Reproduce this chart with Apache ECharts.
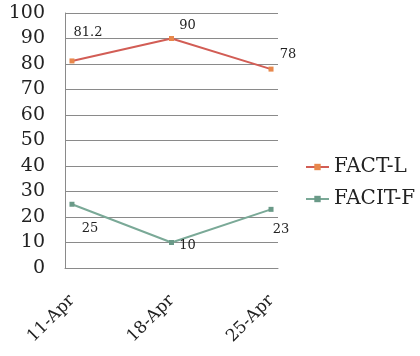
<!DOCTYPE html>
<html><head><meta charset="utf-8">
<script src="https://cdn.jsdelivr.net/npm/echarts@6/dist/echarts.min.js"></script>
<style>html,body{margin:0;padding:0;background:#fff}#c{width:420px;height:356px}</style>
</head><body><div id="c"></div>
<script>
const categories = ['11-Apr', '18-Apr', '25-Apr'];
const factL = [81.2, 90, 78];
const facitF = [25, 10, 23];
const seriesNames = ['FACT-L', 'FACIT-F'];
const yTicks = [0, 10, 20, 30, 40, 50, 60, 70, 80, 90, 100];

const serif = '"DejaVu Serif", "Liberation Serif", serif';
const offL = [[16, -28], [16, -13], [17, -14]];
const offF = [[18, 24], [16, 3], [10, 20]];

function build(vals, offs) {
  return vals.map((v, i) => ({
    value: [i, v],
    label: { show: true, position: 'inside', offset: offs[i], formatter: String(v) }
  }));
}

const chart = echarts.init(document.getElementById('c'));
chart.setOption({
  animation: false,
  grid: { left: 65, right: 142, top: 13, bottom: 88 },
  legend: {
    orient: 'vertical', left: 300, top: 152, itemGap: 12,
    itemWidth: 23, itemHeight: 8,
    textStyle: { fontFamily: serif, fontSize: 20, color: '#222' },
    data: seriesNames
  },
  xAxis: {
    type: 'value', min: -0.07, max: 2.07,
    axisLine: { show: true, onZero: false, lineStyle: { color: '#8a8a8a' } },
    axisTick: { show: false },
    splitLine: { show: false },
    axisLabel: {
      customValues: [0, 1, 2], rotate: 45, margin: 30,
      fontFamily: serif, fontSize: 17, color: '#222',
      formatter: v => categories[Math.round(v)]
    }
  },
  yAxis: {
    type: 'value', min: 0, max: 100, interval: 10,
    axisLine: { show: true, onZero: false, lineStyle: { color: '#8a8a8a' } },
    axisTick: { show: false },
    splitLine: { lineStyle: { color: '#8a8a8a' } },
    axisLabel: {
      margin: 20, fontFamily: serif, fontSize: 19, color: '#222',
      formatter: v => yTicks.includes(v) ? String(v) : ''
    }
  },
  series: [
    {
      name: seriesNames[0], type: 'line', data: build(factL, offL),
      symbol: 'rect', symbolSize: 5,
      lineStyle: { color: '#d25d55', width: 2 },
      itemStyle: { color: '#e8884c' },
      label: { fontFamily: serif, fontSize: 13, color: '#222' }
    },
    {
      name: seriesNames[1], type: 'line', data: build(facitF, offF),
      symbol: 'rect', symbolSize: 5,
      lineStyle: { color: '#7aa997', width: 2 },
      itemStyle: { color: '#6a9a88' },
      label: { fontFamily: serif, fontSize: 13, color: '#222' }
    }
  ]
});
</script></body></html>
